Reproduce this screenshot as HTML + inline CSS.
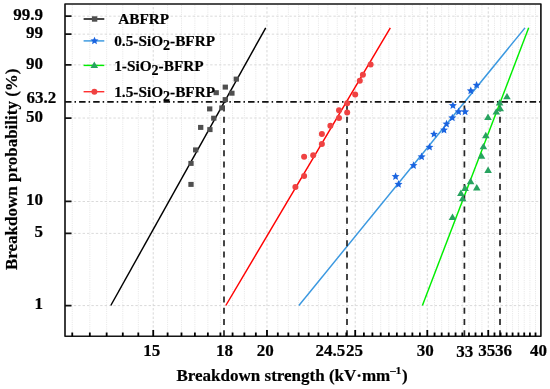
<!DOCTYPE html><html><head><meta charset="utf-8"><style>html,body{margin:0;padding:0;background:#fff;}svg{display:block;will-change:transform;}text{font-family:"Liberation Serif",serif;font-weight:bold;fill:#000;stroke:#000;stroke-width:0.2px;}</style></head><body>
<svg width="550" height="389" viewBox="0 0 550 389">
<path d="M72.26 336.2V4.0 M89.83 336.2V4.0 M106.66 336.2V4.0 M122.80 336.2V4.0 M138.31 336.2V4.0 M167.61 336.2V4.0 M181.49 336.2V4.0 M194.89 336.2V4.0 M207.86 336.2V4.0 M220.41 336.2V4.0 M232.58 336.2V4.0 M244.38 336.2V4.0 M255.84 336.2V4.0 M277.81 336.2V4.0 M288.36 336.2V4.0 M298.63 336.2V4.0 M308.64 336.2V4.0 M318.40 336.2V4.0 M327.93 336.2V4.0 M337.24 336.2V4.0 M346.33 336.2V4.0 M363.90 336.2V4.0 M372.41 336.2V4.0 M380.73 336.2V4.0 M388.88 336.2V4.0 M396.87 336.2V4.0 M404.70 336.2V4.0 M412.38 336.2V4.0 M419.91 336.2V4.0 M434.56 336.2V4.0 M441.68 336.2V4.0 M448.68 336.2V4.0 M455.56 336.2V4.0 M462.32 336.2V4.0 M468.96 336.2V4.0 M475.50 336.2V4.0 M481.93 336.2V4.0 M494.48 336.2V4.0 M500.61 336.2V4.0 M506.65 336.2V4.0 M512.59 336.2V4.0 M518.45 336.2V4.0 M524.22 336.2V4.0 M529.91 336.2V4.0 M535.52 336.2V4.0" stroke="#e9e9e9" stroke-width="1" stroke-dasharray="1.2 1" fill="none"/>
<path d="M153.23 336.2V4.0 M266.98 336.2V4.0 M355.21 336.2V4.0 M427.30 336.2V4.0 M488.25 336.2V4.0" stroke="#d8d8d8" stroke-width="1" stroke-dasharray="2.4 1.9" fill="none"/>
<path d="M65.0 16.18H540.9 M65.0 34.15H540.9 M65.0 64.85H540.9 M65.0 118.04H540.9 M65.0 201.49H540.9 M65.0 233.38H540.9 M65.0 305.59H540.9" stroke="#dadada" stroke-width="1" stroke-dasharray="2.4 2" fill="none"/>
<line x1="110.8" y1="305.5" x2="265.7" y2="27.85" stroke="#000" stroke-width="1.45"/>
<line x1="225.8" y1="305.5" x2="390.3" y2="27.85" stroke="#ff0000" stroke-width="1.45"/>
<line x1="298.9" y1="305.5" x2="525" y2="27.85" stroke="#3a98e0" stroke-width="1.45"/>
<line x1="422.4" y1="305.5" x2="528.7" y2="27.85" stroke="#00ee00" stroke-width="1.45"/>
<line x1="65.0" y1="101.8" x2="540.9" y2="101.8" stroke="#111" stroke-width="1.8" stroke-dasharray="6.5 3 1.5 3.08" stroke-dashoffset="0"/>
<line x1="224.0" y1="336.2" x2="224.0" y2="101.8" stroke="#262626" stroke-width="1.7" stroke-dasharray="6 5.24"/>
<line x1="347.0" y1="336.2" x2="347.0" y2="101.8" stroke="#262626" stroke-width="1.7" stroke-dasharray="6 5.24"/>
<line x1="464.4" y1="336.2" x2="464.4" y2="101.8" stroke="#262626" stroke-width="1.7" stroke-dasharray="6 5.24"/>
<line x1="500.0" y1="336.2" x2="500.0" y2="101.8" stroke="#262626" stroke-width="1.7" stroke-dasharray="6 5.24"/>
<rect x="233.65" y="76.60" width="5.3" height="5.0" fill="#4f4f4f"/>
<rect x="222.65" y="84.60" width="5.3" height="5.0" fill="#4f4f4f"/>
<rect x="229.25" y="90.70" width="5.3" height="5.0" fill="#4f4f4f"/>
<rect x="213.55" y="90.20" width="5.3" height="5.0" fill="#4f4f4f"/>
<rect x="222.65" y="97.10" width="5.3" height="5.0" fill="#4f4f4f"/>
<rect x="207.05" y="106.40" width="5.3" height="5.0" fill="#4f4f4f"/>
<rect x="219.25" y="105.40" width="5.3" height="5.0" fill="#4f4f4f"/>
<rect x="211.15" y="115.70" width="5.3" height="5.0" fill="#4f4f4f"/>
<rect x="198.05" y="124.90" width="5.3" height="5.0" fill="#4f4f4f"/>
<rect x="207.25" y="127.10" width="5.3" height="5.0" fill="#4f4f4f"/>
<rect x="193.05" y="147.40" width="5.3" height="5.0" fill="#4f4f4f"/>
<rect x="188.35" y="160.90" width="5.3" height="5.0" fill="#4f4f4f"/>
<rect x="188.35" y="181.90" width="5.3" height="5.0" fill="#4f4f4f"/>
<circle cx="370.6" cy="64.4" r="3" fill="#ef4242"/>
<circle cx="362.9" cy="74.8" r="3" fill="#ef4242"/>
<circle cx="359.8" cy="80.7" r="3" fill="#ef4242"/>
<circle cx="355.2" cy="94.6" r="3" fill="#ef4242"/>
<circle cx="347.2" cy="103.2" r="3" fill="#ef4242"/>
<circle cx="339" cy="110.3" r="3" fill="#ef4242"/>
<circle cx="347.2" cy="112.6" r="3" fill="#ef4242"/>
<circle cx="339" cy="118" r="3" fill="#ef4242"/>
<circle cx="330.4" cy="125.8" r="3" fill="#ef4242"/>
<circle cx="321.9" cy="134.1" r="3" fill="#ef4242"/>
<circle cx="321.9" cy="144.1" r="3" fill="#ef4242"/>
<circle cx="313.2" cy="155.3" r="3" fill="#ef4242"/>
<circle cx="304.1" cy="156.7" r="3" fill="#ef4242"/>
<circle cx="304.1" cy="176" r="3" fill="#ef4242"/>
<circle cx="295.4" cy="187" r="3" fill="#ef4242"/>
<polygon points="476.60,81.00 477.72,83.66 480.59,83.90 478.41,85.79 479.07,88.60 476.60,87.10 474.13,88.60 474.79,85.79 472.61,83.90 475.48,83.66" fill="#1a64e0"/>
<polygon points="470.80,86.60 471.92,89.26 474.79,89.50 472.61,91.39 473.27,94.20 470.80,92.70 468.33,94.20 468.99,91.39 466.81,89.50 469.68,89.26" fill="#1a64e0"/>
<polygon points="452.90,101.40 454.02,104.06 456.89,104.30 454.71,106.19 455.37,109.00 452.90,107.50 450.43,109.00 451.09,106.19 448.91,104.30 451.78,104.06" fill="#1a64e0"/>
<polygon points="458.60,107.60 459.72,110.26 462.59,110.50 460.41,112.39 461.07,115.20 458.60,113.70 456.13,115.20 456.79,112.39 454.61,110.50 457.48,110.26" fill="#1a64e0"/>
<polygon points="465.10,107.60 466.22,110.26 469.09,110.50 466.91,112.39 467.57,115.20 465.10,113.70 462.63,115.20 463.29,112.39 461.11,110.50 463.98,110.26" fill="#1a64e0"/>
<polygon points="452.30,113.70 453.42,116.36 456.29,116.60 454.11,118.49 454.77,121.30 452.30,119.80 449.83,121.30 450.49,118.49 448.31,116.60 451.18,116.36" fill="#1a64e0"/>
<polygon points="446.50,119.80 447.62,122.46 450.49,122.70 448.31,124.59 448.97,127.40 446.50,125.90 444.03,127.40 444.69,124.59 442.51,122.70 445.38,122.46" fill="#1a64e0"/>
<polygon points="444.00,125.80 445.12,128.46 447.99,128.70 445.81,130.59 446.47,133.40 444.00,131.90 441.53,133.40 442.19,130.59 440.01,128.70 442.88,128.46" fill="#1a64e0"/>
<polygon points="434.00,130.00 435.12,132.66 437.99,132.90 435.81,134.79 436.47,137.60 434.00,136.10 431.53,137.60 432.19,134.79 430.01,132.90 432.88,132.66" fill="#1a64e0"/>
<polygon points="429.50,143.00 430.62,145.66 433.49,145.90 431.31,147.79 431.97,150.60 429.50,149.10 427.03,150.60 427.69,147.79 425.51,145.90 428.38,145.66" fill="#1a64e0"/>
<polygon points="421.60,152.60 422.72,155.26 425.59,155.50 423.41,157.39 424.07,160.20 421.60,158.70 419.13,160.20 419.79,157.39 417.61,155.50 420.48,155.26" fill="#1a64e0"/>
<polygon points="413.50,161.30 414.62,163.96 417.49,164.20 415.31,166.09 415.97,168.90 413.50,167.40 411.03,168.90 411.69,166.09 409.51,164.20 412.38,163.96" fill="#1a64e0"/>
<polygon points="395.60,172.30 396.72,174.96 399.59,175.20 397.41,177.09 398.07,179.90 395.60,178.40 393.13,179.90 393.79,177.09 391.61,175.20 394.48,174.96" fill="#1a64e0"/>
<polygon points="398.50,180.10 399.62,182.76 402.49,183.00 400.31,184.89 400.97,187.70 398.50,186.20 396.03,187.70 396.69,184.89 394.51,183.00 397.38,182.76" fill="#1a64e0"/>
<polygon points="507.00,92.96 510.80,99.36 503.20,99.36" fill="#27a35f"/>
<polygon points="499.60,99.16 503.40,105.56 495.80,105.56" fill="#27a35f"/>
<polygon points="500.20,104.96 504.00,111.36 496.40,111.36" fill="#27a35f"/>
<polygon points="496.30,108.16 500.10,114.56 492.50,114.56" fill="#27a35f"/>
<polygon points="488.00,113.56 491.80,119.96 484.20,119.96" fill="#27a35f"/>
<polygon points="485.80,131.76 489.60,138.16 482.00,138.16" fill="#27a35f"/>
<polygon points="483.40,142.96 487.20,149.36 479.60,149.36" fill="#27a35f"/>
<polygon points="481.50,152.26 485.30,158.66 477.70,158.66" fill="#27a35f"/>
<polygon points="488.10,166.56 491.90,172.96 484.30,172.96" fill="#27a35f"/>
<polygon points="470.60,177.86 474.40,184.26 466.80,184.26" fill="#27a35f"/>
<polygon points="476.80,184.06 480.60,190.46 473.00,190.46" fill="#27a35f"/>
<polygon points="465.10,184.56 468.90,190.96 461.30,190.96" fill="#27a35f"/>
<polygon points="460.90,189.56 464.70,195.96 457.10,195.96" fill="#27a35f"/>
<polygon points="462.60,194.96 466.40,201.36 458.80,201.36" fill="#27a35f"/>
<polygon points="452.50,213.56 456.30,219.96 448.70,219.96" fill="#27a35f"/>
<rect x="65.0" y="4.0" width="475.9" height="332.2" fill="none" stroke="#151515" stroke-width="1.65" stroke-linejoin="round"/>
<path d="M65.0 16.18H71.5 M65.0 34.15H71.5 M65.0 64.85H71.5 M65.0 118.04H71.5 M65.0 201.49H71.5 M65.0 233.38H71.5 M65.0 305.59H71.5" stroke="#111" stroke-width="1.75" fill="none"/>
<path d="M72.26 336.2V332.59999999999997 M89.83 336.2V332.59999999999997 M106.66 336.2V332.59999999999997 M122.80 336.2V332.59999999999997 M138.31 336.2V332.59999999999997 M153.23 336.2V329.9 M167.61 336.2V332.59999999999997 M181.49 336.2V332.59999999999997 M194.89 336.2V332.59999999999997 M207.86 336.2V332.59999999999997 M220.41 336.2V332.59999999999997 M232.58 336.2V332.59999999999997 M244.38 336.2V332.59999999999997 M255.84 336.2V332.59999999999997 M266.98 336.2V329.9 M277.81 336.2V332.59999999999997 M288.36 336.2V332.59999999999997 M298.63 336.2V332.59999999999997 M308.64 336.2V332.59999999999997 M318.40 336.2V332.59999999999997 M327.93 336.2V332.59999999999997 M337.24 336.2V332.59999999999997 M346.33 336.2V332.59999999999997 M355.21 336.2V329.9 M363.90 336.2V332.59999999999997 M372.41 336.2V332.59999999999997 M380.73 336.2V332.59999999999997 M388.88 336.2V332.59999999999997 M396.87 336.2V332.59999999999997 M404.70 336.2V332.59999999999997 M412.38 336.2V332.59999999999997 M419.91 336.2V332.59999999999997 M427.30 336.2V329.9 M434.56 336.2V332.59999999999997 M441.68 336.2V332.59999999999997 M448.68 336.2V332.59999999999997 M455.56 336.2V332.59999999999997 M462.32 336.2V332.59999999999997 M468.96 336.2V332.59999999999997 M475.50 336.2V332.59999999999997 M481.93 336.2V332.59999999999997 M488.25 336.2V329.9 M494.48 336.2V332.59999999999997 M500.61 336.2V332.59999999999997 M506.65 336.2V332.59999999999997 M512.59 336.2V332.59999999999997 M518.45 336.2V332.59999999999997 M524.22 336.2V332.59999999999997 M529.91 336.2V332.59999999999997 M535.52 336.2V332.59999999999997" stroke="#000" stroke-width="1.8" fill="none"/>
<text x="43" y="20.0" font-size="17" text-anchor="end">99.9</text>
<text x="43" y="37.9" font-size="17" text-anchor="end">99</text>
<text x="43" y="68.7" font-size="17" text-anchor="end">90</text>
<text x="43" y="121.8" font-size="17" text-anchor="end">50</text>
<text x="43" y="205.3" font-size="17" text-anchor="end">10</text>
<text x="43" y="237.2" font-size="17" text-anchor="end">5</text>
<text x="43" y="309.4" font-size="17" text-anchor="end">1</text>
<text x="26.5" y="102.6" font-size="17">63.2</text>
<text x="151.8" y="356.1" font-size="17" text-anchor="middle">15</text>
<text x="224.5" y="356.1" font-size="17" text-anchor="middle">18</text>
<text x="265.3" y="356.1" font-size="17" text-anchor="middle">20</text>
<text x="425.3" y="356.1" font-size="17" text-anchor="middle">30</text>
<text x="464.7" y="357.0" font-size="17" text-anchor="middle">33</text>
<text x="538.5" y="356.1" font-size="17" text-anchor="middle">40</text>
<text x="315.5" y="356.1" font-size="17">24.5</text>
<text x="346" y="356.1" font-size="17">25</text>
<text x="478.3" y="356.1" font-size="17">35</text>
<text x="495" y="356.1" font-size="17">36</text>
<text x="176.5" y="380.7" font-size="17">Breakdown strength (kV·mm<tspan font-size="11" dy="-7">–1</tspan><tspan dy="7" dx="0.6">)</tspan></text>
<text transform="translate(17,270) rotate(-90)" font-size="17">Breakdown probability (%)</text>
<line x1="83.6" y1="19.0" x2="104.3" y2="19.0" stroke="#000" stroke-width="1.45"/>
<rect x="91.89999999999999" y="16.3" width="5.4" height="5.4" fill="#4f4f4f"/>
<text x="114.2" y="24.4" font-size="15.3"><tspan dx="4">ABFRP</tspan></text>
<line x1="83.6" y1="40.9" x2="104.3" y2="40.9" stroke="#3a98e0" stroke-width="1.45"/>
<polygon points="94.50,36.70 95.62,39.36 98.49,39.60 96.31,41.49 96.97,44.30 94.50,42.80 92.03,44.30 92.69,41.49 90.51,39.60 93.38,39.36" fill="#1a64e0"/>
<text x="114.2" y="45.5" font-size="15.3">0.5-SiO<tspan font-size="14" dy="4">2</tspan><tspan dy="-4">-BFRP</tspan></text>
<line x1="83.6" y1="65.4" x2="104.3" y2="65.4" stroke="#00ee00" stroke-width="1.45"/>
<polygon points="94.30,61.56 98.10,67.96 90.50,67.96" fill="#27a35f"/>
<text x="114.2" y="70.9" font-size="15.3">1-SiO<tspan font-size="14" dy="4">2</tspan><tspan dy="-4">-BFRP</tspan></text>
<line x1="83.6" y1="91.7" x2="104.3" y2="91.7" stroke="#ff3030" stroke-width="1.45"/>
<circle cx="94.4" cy="91.7" r="3" fill="#ef4242"/>
<text x="114.2" y="96.6" font-size="15.3">1.5-SiO<tspan font-size="14" dy="4">2</tspan><tspan dy="-4">-BFRP</tspan></text>
</svg></body></html>
